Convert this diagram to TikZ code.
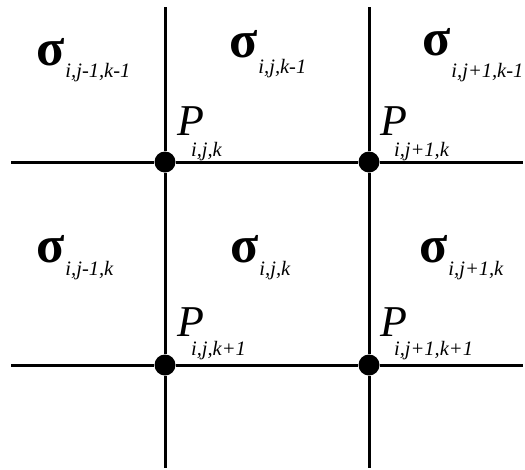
\documentclass[tikz,border=0pt]{standalone}
\usepackage{fontspec}
\setmainfont{Liberation Serif}
\usetikzlibrary{positioning}
% lowered index text
\newcommand{\idx}[2][13pt]{\raisebox{-#1}{\fontsize{20.5}{21}\selectfont\mdseries\itshape #2}}

\begin{document}
\begin{tikzpicture}[
    x=1pt, y=-1pt,
    gridline/.style={line width=3pt, draw=black},
    dot/.style={circle, fill=black, inner sep=0pt, minimum size=21pt},
    cell/.style={anchor=base west, inner sep=0pt, font=\fontsize{52}{52}\selectfont\bfseries},
    point/.style={anchor=base west, inner sep=0pt, font=\fontsize{44}{44}\selectfont\itshape}
]
\useasboundingbox (0,0) rectangle (525,469);
% grid ends
\coordinate (colAtop) at (165,7);
\coordinate (colAbot) at (165,468);
\coordinate (colBtop) at (369,7);
\coordinate (colBbot) at (369,468);
\coordinate (rowAleft) at (11,162);
\coordinate (rowAright) at (523,162);
\coordinate (rowBleft) at (11,365);
\coordinate (rowBright) at (523,365);
% grid points
\node[dot] (Pjk) at (165,162) {};
\node[dot] (Pj1k) at (369,162) {};
\node[dot] (Pjk1) at (165,365) {};
\node[dot] (Pj1k1) at (369,365) {};
\draw[gridline] (colAtop) -- (Pjk) -- (Pjk1) -- (colAbot);
\draw[gridline] (colBtop) -- (Pj1k) -- (Pj1k1) -- (colBbot);
\draw[gridline] (rowAleft) -- (Pjk) -- (Pj1k) -- (rowAright);
\draw[gridline] (rowBleft) -- (Pjk1) -- (Pj1k1) -- (rowBright);
% cell values
\node[cell] (sjmkm) at (36,65) {σ\hspace{1pt}\idx[12pt]{i,j-1,k-1}};
\node[cell] (sjkm) at (229,57) {σ\hspace{1pt}\idx[16pt]{i,j,k-1}};
\node[cell] (sjpkm) at (422,55) {σ\hspace{1pt}\idx[22pt]{i,j+1,k-1}};
\node[cell] (sjmk) at (36,262) {σ\hspace{1pt}\idx{i,j-1,k}};
\node[cell] (sjk) at (230,262) {σ\hspace{1pt}\idx{i,j,k}};
\node[cell] (sjpk) at (419,262) {σ\hspace{1pt}\idx{i,j+1,k}};
% point labels
\node[point] (lPjk) at (177,135) {P\hspace*{-13pt}\idx[21pt]{i,j,k}};
\node[point] (lPj1k) at (380,135) {P\hspace*{-13pt}\idx[21pt]{i,j+1,k}};
\node[point] (lPjk1) at (177,336) {P\hspace*{-13pt}\idx[19pt]{i,j,k+1}};
\node[point] (lPj1k1) at (380,336) {P\hspace*{-13pt}\idx[19pt]{i,j+1,k+1}};
\end{tikzpicture}
\end{document}
